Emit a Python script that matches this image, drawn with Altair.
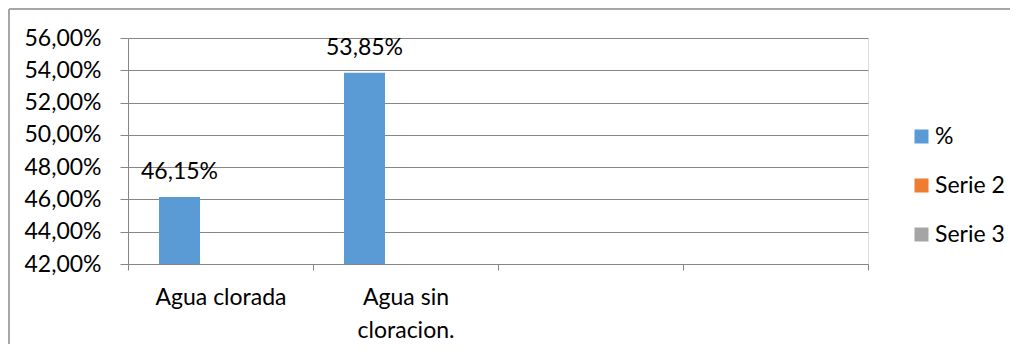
import altair as alt
import pandas as pd

categories = ["Agua clorada", "Agua sin\ncloracion.", " ", "  "]
series_names = ["%", "Serie 2", "Serie 3"]
serie_pct = [46.15, 53.85, None, None]
serie_2 = [None, None, None, None]
serie_3 = [None, None, None, None]
y_ticks = [42, 44, 46, 48, 50, 52, 54, 56]
colors = ["#5B9BD5", "#ED7D31", "#A5A5A5"]

rows = []
for name, vals in zip(series_names, [serie_pct, serie_2, serie_3]):
    for c, v in zip(categories, vals):
        rows.append({"cat": c, "serie": name, "valor": v})
df = pd.DataFrame(rows)

FONT = "Lato"
FS = 23
W, H = 740, 226

x_enc = alt.X(
    "cat:N",
    sort=categories,
    scale=alt.Scale(domain=categories, paddingInner=0, paddingOuter=0),
    axis=alt.Axis(
        title=None,
        labelAngle=0,
        labelExpr="split(datum.label, '\\n')",
        labelFontSize=FS,
        labelLineHeight=33,
        labelPadding=16,
        labelColor="#000000",
        labelFont=FONT,
        tickBand="extent",
        tickSize=6,
        tickColor="#868686",
        domainColor="#868686",
        grid=False,
    ),
)
xoff = alt.XOffset(
    "serie:N",
    scale=alt.Scale(domain=series_names, paddingInner=0, paddingOuter=0.756),
)
y_enc = alt.Y(
    "valor:Q",
    scale=alt.Scale(domain=[42, 56], nice=False, zero=False),
    axis=alt.Axis(
        title=None,
        values=y_ticks,
        labelExpr="replace(format(datum.value, '.2f'), '.', ',') + '%'",
        labelFontSize=FS,
        labelColor="#000000",
        labelFont=FONT,
        labelPadding=19,
        tickSize=8,
        tickColor="#868686",
        domainColor="#868686",
        gridColor="#868686",
    ),
)

base = alt.Chart(df)

bars = base.mark_bar(clip=True).encode(
    x=x_enc,
    xOffset=xoff,
    y=y_enc,
    color=alt.Color(
        "serie:N",
        scale=alt.Scale(domain=series_names, range=colors),
        legend=alt.Legend(
            title=None,
            orient="none",
            legendX=782,
            legendY=87,
            symbolType="square",
            symbolSize=196,
            symbolStrokeWidth=0,
            labelFontSize=FS,
            labelFont=FONT,
            labelColor="#000000",
            labelOffset=2,
            rowPadding=25,
        ),
    ),
)

labels = (
    base.transform_filter("isValid(datum.valor)")
    .transform_calculate(
        etiqueta="replace(format(datum.valor, '.2f'), '.', ',') + '%'"
    )
    .mark_text(fontSize=FS, font=FONT, color="#000000", baseline="alphabetic", dy=-18)
    .encode(x=x_enc, xOffset=xoff, y=y_enc, text="etiqueta:N")
)

border_top = base.mark_rule(color="#A6A6A6", strokeWidth=2).encode(
    x=alt.value(-119), x2=alt.value(W + 142), y=alt.value(-29)
)
border_left = base.mark_rule(color="#A6A6A6", strokeWidth=2).encode(
    x=alt.value(-119), y=alt.value(-29), y2=alt.value(H + 90)
)

chart = (
    alt.layer(bars, labels, border_top, border_left)
    .properties(
        width=W,
        height=H,
        autosize=alt.AutoSizeParams(type="none"),
        padding={"left": 120, "top": 30, "right": 142, "bottom": 80},
    )
    .configure_view(stroke=None)
    .configure(background="white")
)

chart.save("out.html", embed_options={"renderer": "svg", "actions": False})
